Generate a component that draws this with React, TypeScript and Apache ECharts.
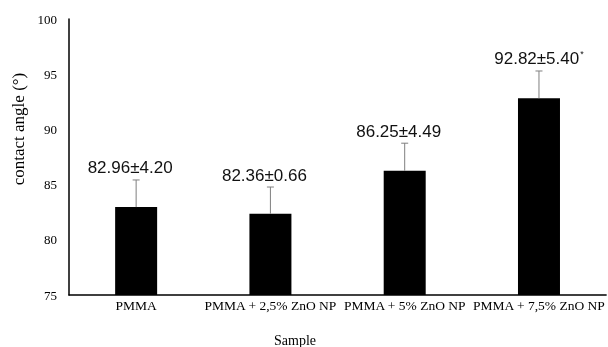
import React, { useEffect, useRef } from "react";
import * as echarts from "echarts";

const categories = ["PMMA", "PMMA + 2,5% ZnO NP", "PMMA + 5% ZnO NP", "PMMA + 7,5% ZnO NP"];
const means = [82.96, 82.36, 86.25, 92.82];
const sds = [4.2, 0.66, 4.49, 5.4];
const errorBars = [2.46, 2.42, 2.5, 2.47];
const marks = ["", "", "", "*"];

export default function App() {
  const ref = useRef<HTMLDivElement>(null);
  useEffect(() => {
    if (!ref.current) return;
    const chart = echarts.init(ref.current, null, { renderer: "svg" });
    const errData = means.map((m, i) => [i, m, m + errorBars[i], sds[i], marks[i]]);
    chart.setOption({
      animation: false,
      grid: { left: 69, right: 0, top: 19, bottom: 52 },
      xAxis: {
        type: "category",
        data: categories,
        axisLine: { lineStyle: { color: "#000", width: 1.5 } },
        axisTick: { show: false },
        axisLabel: { color: "#000", fontFamily: "Liberation Serif", fontSize: 13.5, margin: 3, interval: 0 },
      },
      yAxis: {
        type: "value",
        min: 75,
        max: 100,
        interval: 5,
        splitLine: { show: false },
        axisLine: { show: true, lineStyle: { color: "#000", width: 1.5 } },
        axisTick: { show: false },
        axisLabel: { color: "#000", fontFamily: "Liberation Serif", fontSize: 13, margin: 12 },
      },
      graphic: [
        {
          type: "text",
          x: 18,
          y: 129,
          rotation: Math.PI / 2,
          style: {
            text: "contact angle (°)",
            fill: "#000",
            font: "17px 'Liberation Serif'",
            align: "center",
            verticalAlign: "middle",
          },
        },
        {
          type: "text",
          x: 295,
          y: 340,
          style: {
            text: "Sample",
            fill: "#000",
            font: "14px 'Liberation Serif'",
            align: "center",
            verticalAlign: "middle",
          },
        },
      ],
      series: [
        {
          type: "bar",
          data: means,
          barWidth: 42,
          itemStyle: { color: "#000" },
        },
        {
          type: "custom",
          z: 5,
          data: errData,
          renderItem: (params: any, api: any) => {
            const i = api.value(0);
            const base = api.coord([i, api.value(1)]);
            const top = api.coord([i, api.value(2)]);
            const mean = means[i];
            const sd = sds[i];
            const mark = marks[i];
            const txt = `{a|${mean.toFixed(2)}±${sd.toFixed(2)}}` + (mark ? `{s|${mark}}` : "");
            return {
              type: "group",
              children: [
                {
                  type: "line",
                  shape: { x1: base[0], y1: base[1], x2: top[0], y2: top[1] },
                  style: { stroke: "#7f7f7f", lineWidth: 1 },
                },
                {
                  type: "line",
                  shape: { x1: top[0] - 3.5, y1: top[1], x2: top[0] + 3.5, y2: top[1] },
                  style: { stroke: "#7f7f7f", lineWidth: 1 },
                },
                {
                  type: "text",
                  x: top[0] - (mark ? 0 : 6),
                  y: top[1] - 12,
                  style: {
                    text: txt,
                    align: "center",
                    verticalAlign: "middle",
                    rich: {
                      a: { fontFamily: "Liberation Sans", fontSize: 17, fill: "#111" },
                      s: { fontFamily: "Liberation Sans", fontSize: 9, fill: "#111", padding: [0, 0, 10, 1] },
                    },
                  },
                },
              ],
            };
          },
        },
      ],
    });
    return () => chart.dispose();
  }, []);
  return <div ref={ref} style={{ position: "fixed", left: 0, top: 0, width: 608, height: 347 }} />;
}
